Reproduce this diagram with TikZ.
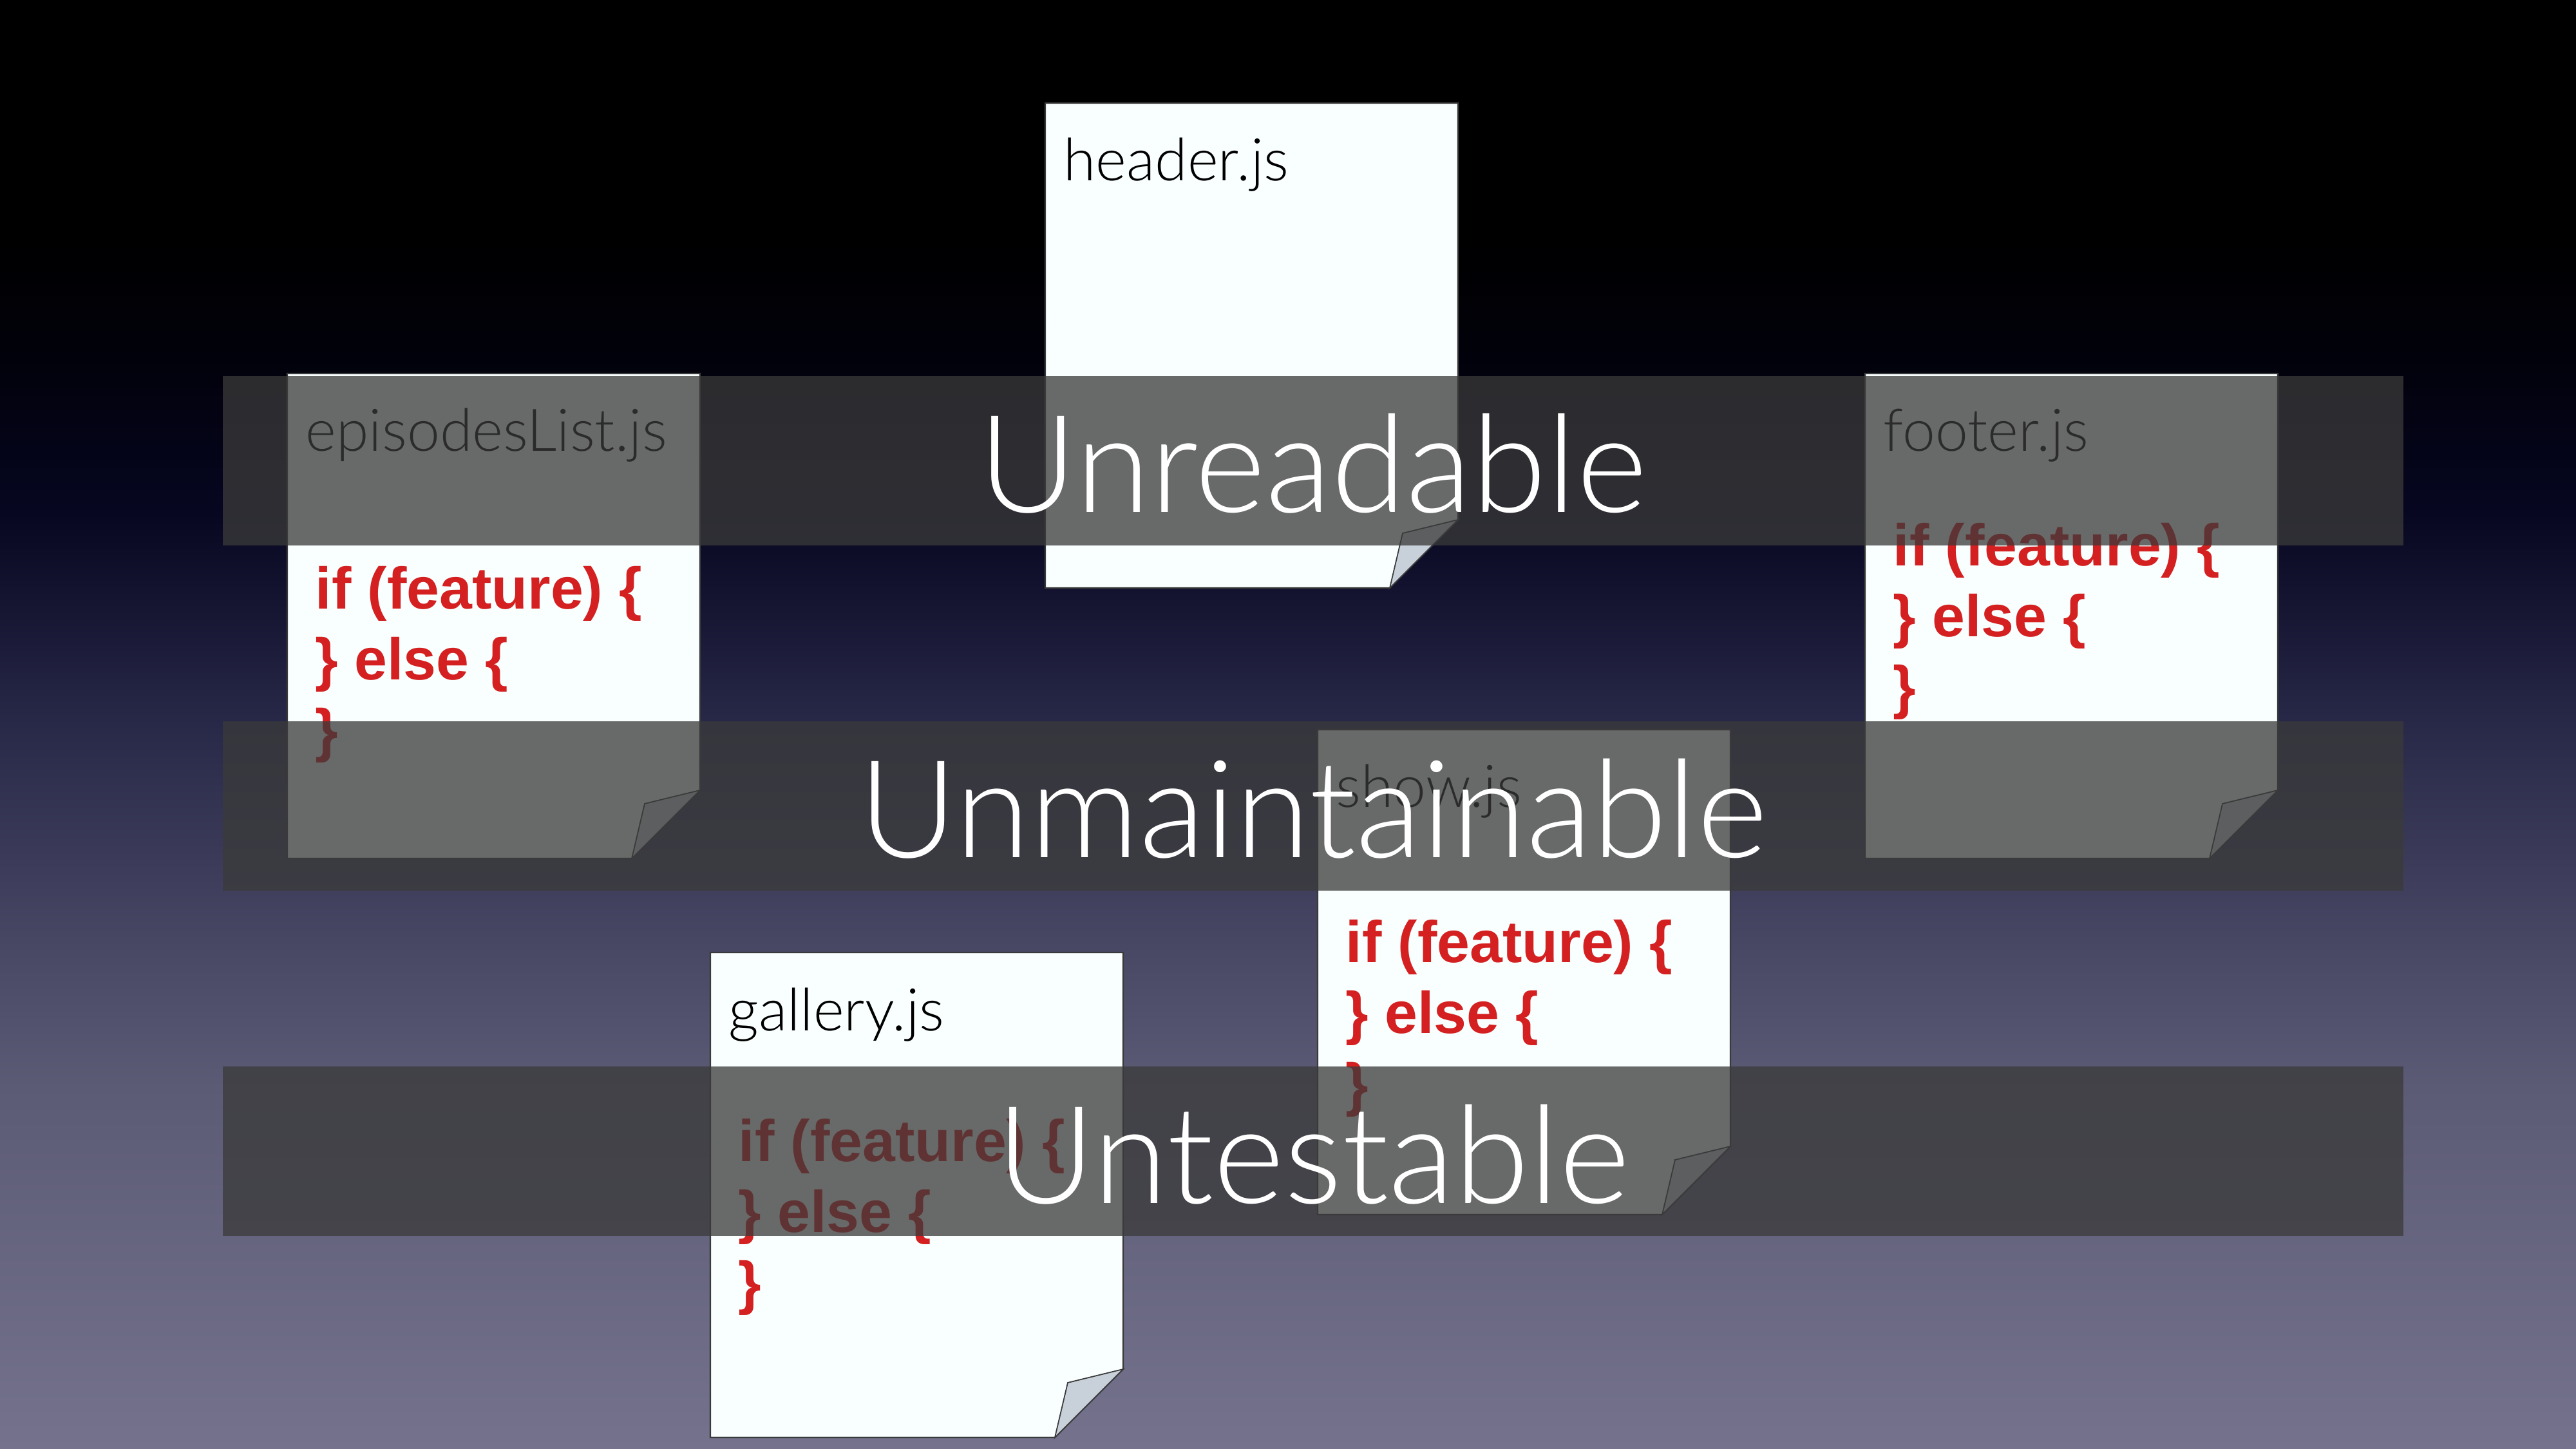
\documentclass[tikz,border=0pt]{standalone}
\usepackage{fontspec}
\setmainfont{Liberation Sans}
\newfontfamily\thinfont{Lato Light}
\usetikzlibrary{calc, positioning}
\definecolor{bgbottom}{RGB}{116,114,140}
\definecolor{bglow}{RGB}{92,91,118}
\definecolor{bgmid}{RGB}{40,40,72}
\definecolor{bgnavy}{RGB}{6,6,32}
\definecolor{bgdark}{RGB}{1,1,10}
\definecolor{pagewhite}{RGB}{248,255,254}
\definecolor{pageedge}{RGB}{58,58,58}
\definecolor{flapgray}{RGB}{200,208,218}
\definecolor{codered}{RGB}{212,32,32}
\definecolor{bandgray}{RGB}{58,58,58}
% the filled box is mapped onto 25bp..75bp
\pgfdeclareverticalshading{slidebg}{100bp}{%
  color(0bp)=(bgbottom); color(25bp)=(bgbottom); color(37.5bp)=(bglow);
  color(50bp)=(bgmid); color(57.5bp)=(bgnavy); color(63bp)=(bgdark);
  color(67bp)=(black); color(100bp)=(black)}

% one file page with a turned-down corner
\newcommand{\jspage}[3]{%
  \coordinate (#1) at (#2,#3);
  \draw[pagebox] (#1) -- ++(6.41,0) -- ++(0,-6.47) -- ++(-1.06,-1.06)
    -- ++(-5.35,0) -- cycle;
  \draw[pageflap] (#1) ++(6.41,-6.47) -- ++(-0.86,-0.21) -- ++(-0.20,-0.85)
    -- cycle;
}
% the if/else lines
\newcommand{\codeblock}[3]{%
  \node[codeln] (#1a) at (#2,#3)     {if (feature) \{};
  \node[codeln] (#1b) at (#2,#3-1.1) {\} else \{};
  \node[codeln] (#1c) at (#2,#3-2.2) {\}};
}

\begin{document}
\begin{tikzpicture}[
  pagebox/.style={draw=pageedge, line width=0.6pt, fill=pagewhite},
  pageflap/.style={draw=pageedge, line width=0.5pt, fill=flapgray},
  fname/.style={anchor=base west, inner sep=0pt, text=black,
    font=\thinfont\fontsize{26}{30}\selectfont},
  codeln/.style={anchor=base west, inner sep=0pt, text=codered,
    font=\bfseries\fontsize{26}{30}\selectfont},
  band/.style={rectangle, inner sep=0pt, fill=bandgray, fill opacity=0.755,
    minimum width=33.86cm, minimum height=2.63cm},
  bandlabel/.style={anchor=base, inner sep=0pt, text=white,
    font=\thinfont\fontsize{60}{70}\selectfont}
]
  \useasboundingbox (0,0) rectangle (40,-22.5);
  \shade[shading=slidebg] (0,0) rectangle (40,-22.5);

  % pages
  \jspage{hdr}{16.23}{-1.60}
  \jspage{eps}{4.46}{-5.80}
  \jspage{ftr}{28.96}{-5.80}
  \jspage{shw}{20.46}{-11.33}
  \jspage{gal}{11.03}{-14.79}

  \node[fname] (hdrname) at ($(hdr)+(0.28,-1.21)$) {header.js};
  \node[fname] (epsname) at ($(eps)+(0.28,-1.21)$) {episodesList.js};
  \node[fname] (ftrname) at ($(ftr)+(0.28,-1.21)$) {footer.js};
  \node[fname] (shwname) at ($(shw)+(0.28,-1.21)$) {show.js};
  \node[fname] (galname) at ($(gal)+(0.28,-1.21)$) {gallery.js};

  \codeblock{epsc}{4.89}{-9.46}
  \codeblock{ftrc}{29.39}{-8.79}
  \codeblock{shwc}{20.89}{-14.95}
  \codeblock{galc}{11.46}{-18.03}

  % the three bands
  \node[band] (readband)  at (20.39,-7.155)  {};
  \node[band] (maintband) at (20.39,-12.515) {};
  \node[band] (testband)  at (20.39,-17.875) {};
  \node[bandlabel] (readlbl)  at ([yshift=-0.805cm]readband.center)  {Unreadable};
  \node[bandlabel] (maintlbl) at ([yshift=-0.805cm]maintband.center) {Unmaintainable};
  \node[bandlabel] (testlbl)  at ([yshift=-0.805cm]testband.center)  {Untestable};
\end{tikzpicture}
\end{document}
